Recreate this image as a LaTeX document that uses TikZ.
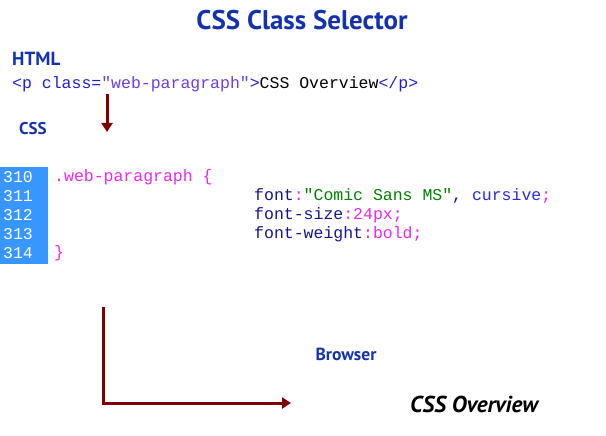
\documentclass[tikz,border=0pt]{standalone}
\usepackage{fontspec}
\setmainfont{Liberation Sans}
\setsansfont{PT Sans}
\setmonofont{Liberation Mono}
\usepackage{xcolor}
\definecolor{headblue}{RGB}{20,50,175}
\definecolor{tagblue}{RGB}{30,30,210}
\definecolor{valviolet}{RGB}{110,60,230}
\definecolor{propnavy}{RGB}{20,20,140}
\definecolor{selmagenta}{RGB}{235,40,235}
\definecolor{strgreen}{RGB}{0,128,0}
\definecolor{kwblue}{RGB}{40,40,230}
\definecolor{gutterblue}{RGB}{55,150,255}
\definecolor{flowred}{RGB}{128,0,0}
\usetikzlibrary{positioning, arrows.meta}
\newcommand{\sel}[1]{\textcolor{selmagenta}{#1}}
\newcommand{\prop}[1]{\textcolor{propnavy}{#1}}

\begin{document}
\begin{tikzpicture}[
    x=1pt, y=-1pt,
    heading/.style={font=\sffamily\bfseries, text=headblue, inner sep=0pt},
    code/.style={font=\ttfamily\fontsize{16.5}{19}\selectfont, anchor=west, inner sep=0pt},
    lineno/.style={code, text=white},
    flow/.style={draw=flowred, line width=3pt, -{Triangle[length=9pt, width=11pt]}},
  ]
    \useasboundingbox (0,0) rectangle (606,436);

    % Titel
    \node[heading, font=\sffamily\bfseries\fontsize{27}{31}\selectfont] (title) at (302,20) {CSS Class Selector};

    % HTML-Teil
    \node[heading, anchor=west, font=\sffamily\bfseries\fontsize{19}{22}\selectfont] (htmllbl) at (12,59) {HTML};
    \node[code] (htmlcode) at (12,84) {\textcolor{tagblue}{<p class=}\textcolor{valviolet}{"web-paragraph"}\textcolor{tagblue}{>}CSS Overview\textcolor{tagblue}{</p>}};

    \coordinate (htmlfoot) at (107,94);
    \coordinate (cssin)    at (107,132);
    \draw[flow] (htmlfoot) -- (cssin);

    % CSS-Teil
    \node[heading, anchor=west, font=\sffamily\bfseries\fontsize{17}{20}\selectfont] (csslbl) at (19,129) {CSS};

    \fill[gutterblue] (0,167) rectangle (48,264);
    \foreach \n [count=\i from 0] in {310,...,314}
      \node[lineno] (ln\n) at (3,{177+19*\i}) {\n};

    \node[code] (sel)  at (54,177)  {\sel{.web-paragraph \{}};
    \node[code] (pfont) at (254,196) {\prop{font}\sel{:}\textcolor{strgreen}{"Comic Sans MS"}\prop{,} \textcolor{kwblue}{cursive}\sel{;}};
    \node[code] (psize) at (254,215) {\prop{font-size}\sel{:24px;}};
    \node[code] (pweight) at (254,234) {\prop{font-weight}\sel{:bold;}};
    \node[code] (close) at (54,253) {\sel{\}}};

    % Ausgabe
    \coordinate (codefoot) at (103,307);
    \coordinate (bend)     at (103,403);
    \coordinate (showin)   at (291,403);
    \draw[flow] (codefoot) -- (bend) -- (showin);

    \node[heading, font=\sffamily\bfseries\fontsize{17.5}{20}\selectfont] (browser) at (346,354) {Browser};
    \node[anchor=west, inner sep=0pt, font=\sffamily\bfseries\itshape\fontsize{23}{26}\selectfont] (shown) at (410,404) {CSS Overview};
  \end{tikzpicture}
\end{document}
